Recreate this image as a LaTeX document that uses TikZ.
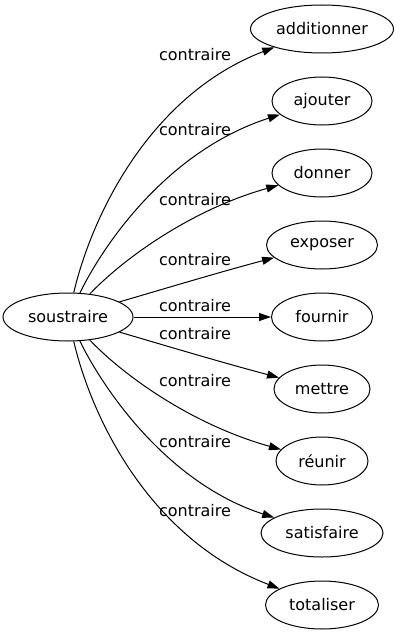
\documentclass[tikz,border=0pt]{standalone}
\usepackage{fontspec}
\setmainfont{DejaVu Sans}
\usetikzlibrary{shapes.geometric,arrows.meta}
\tikzset{
  word/.style={ellipse,draw,minimum height=36pt,inner sep=0pt,font=\fontsize{12}{14}\selectfont},
  lab/.style={inner sep=0pt,font=\fontsize{12}{14}\selectfont},
}
\begin{document}
\begin{tikzpicture}[>={Triangle[length=9pt,width=6pt]},x=0.75pt,y=-0.75pt,line width=0.75pt]
	\useasboundingbox (0,0) rectangle (401,635);
	\node[word,minimum width=97.5pt] (s) at (68,317) {soustraire};
	% mots contraires
	\foreach \name/\mot/\y/\w in {add/additionner/29/107.25,ajo/ajouter/101/75,don/donner/173/75,
		exp/exposer/245/83.25,fou/fournir/317/75.75,met/mettre/389/72,reu/réunir/461/69,
		sat/satisfaire/533/91.5,tot/totaliser/605/84.75}
		\node[word,minimum width=\w pt] (\name) at (322,\y) {\mot};
	% etiquettes
	\foreach \name/\y in {la/55,lb/130,lc/200,ld/260,le/306,lf/334,lg/381,lh/442,li/511}
		\node[lab] (\name) at (195,\y) {contraire};
	% aretes
	\foreach \name/\ax/\ay/\bx/\by in {add/92/215/150/95,ajo/106/240/170/150,don/122/260/190/210,
		exp/160/290/220/272,met/160/344/220/362,reu/122/374/190/424,
		sat/106/394/170/484,tot/92/419/150/539}
		\draw[->] (s) .. controls (\ax,\ay) and (\bx,\by) .. (\name);
	\draw[->] (s) -- (fou);
\end{tikzpicture}
\end{document}
